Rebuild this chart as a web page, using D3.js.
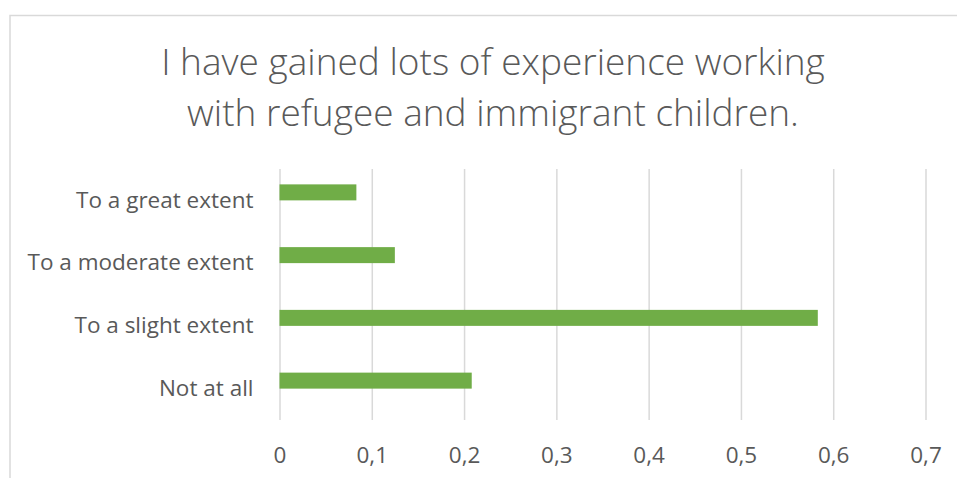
<!DOCTYPE html>
<html>
<head>
<meta charset="utf-8">
<script src="https://cdn.jsdelivr.net/npm/d3@7"></script>
<style>
  html, body { margin: 0; padding: 0; background: #ffffff; }
  svg { display: block; }
</style>
</head>
<body>
<svg id="chart" width="957" height="478"></svg>
<script>
// Survey response shares, listed top to bottom
const categories = ["To a great extent", "To a moderate extent", "To a slight extent", "Not at all"];
const shares = [0.0833, 0.125, 0.5833, 0.2083];
const xTicks = [0, 0.1, 0.2, 0.3, 0.4, 0.5, 0.6, 0.7];
const titleLines = ["I have gained lots of experience working", "with refugee and immigrant children."];

const svg = d3.select("#chart");
const font = "'Open Sans', 'Noto Sans', sans-serif";
const textColor = "#595959";
const gridColor = "#d9d9d9";
const barColor = "#70ad47";

// chart frame
svg.append("rect")
  .attr("x", 10).attr("y", 15.5)
  .attr("width", 980).attr("height", 500)
  .attr("fill", "#ffffff")
  .attr("stroke", gridColor)
  .attr("stroke-width", 1.5);

// title
svg.append("text")
  .attr("font-family", font)
  .attr("font-weight", 300)
  .attr("font-size", 37)
  .attr("fill", textColor)
  .attr("text-anchor", "middle")
  .selectAll("tspan")
  .data(titleLines)
  .join("tspan")
  .attr("x", 493)
  .attr("y", (d, i) => 75 + i * 51)
  .text(d => d);

const plot = { left: 279.5, right: 925.5, top: 169, bottom: 420 };

const x = d3.scaleLinear().domain([0, 0.7]).range([plot.left, plot.right]);
const y = d3.scaleBand().domain(categories).range([plot.top, plot.bottom]).padding(0);

const locale = d3.formatLocale({ decimal: ",", thousands: " ", grouping: [3], currency: ["", ""] });
const fmt = locale.format(".1~f");

// vertical gridlines + tick labels
const xAxis = svg.append("g")
  .attr("transform", `translate(0,${plot.bottom})`)
  .call(d3.axisBottom(x)
    .tickValues(xTicks)
    .tickFormat(fmt)
    .tickSize(-(plot.bottom - plot.top))
    .tickPadding(27));
xAxis.select(".domain").remove();
xAxis.selectAll(".tick line")
  .attr("stroke", gridColor)
  .attr("stroke-width", 1.5);
xAxis.selectAll(".tick text")
  .attr("font-family", font)
  .attr("font-size", 22.5)
  .attr("fill", textColor);

// bars: series occupies the upper half of each cluster
const barH = 16;
svg.append("g")
  .selectAll("rect")
  .data(categories.map((c, i) => ({ c, v: shares[i] })))
  .join("rect")
  .attr("x", x(0))
  .attr("y", d => y(d.c) + y.bandwidth() / 2 - barH)
  .attr("width", d => x(d.v) - x(0))
  .attr("height", barH)
  .attr("fill", barColor);

// category labels
const yAxis = svg.append("g")
  .attr("transform", `translate(${plot.left},0)`)
  .call(d3.axisLeft(y).tickSize(0).tickPadding(26));
yAxis.select(".domain").remove();
yAxis.selectAll(".tick text")
  .attr("font-family", font)
  .attr("font-size", 22.5)
  .attr("fill", textColor);
</script>
</body>
</html>
